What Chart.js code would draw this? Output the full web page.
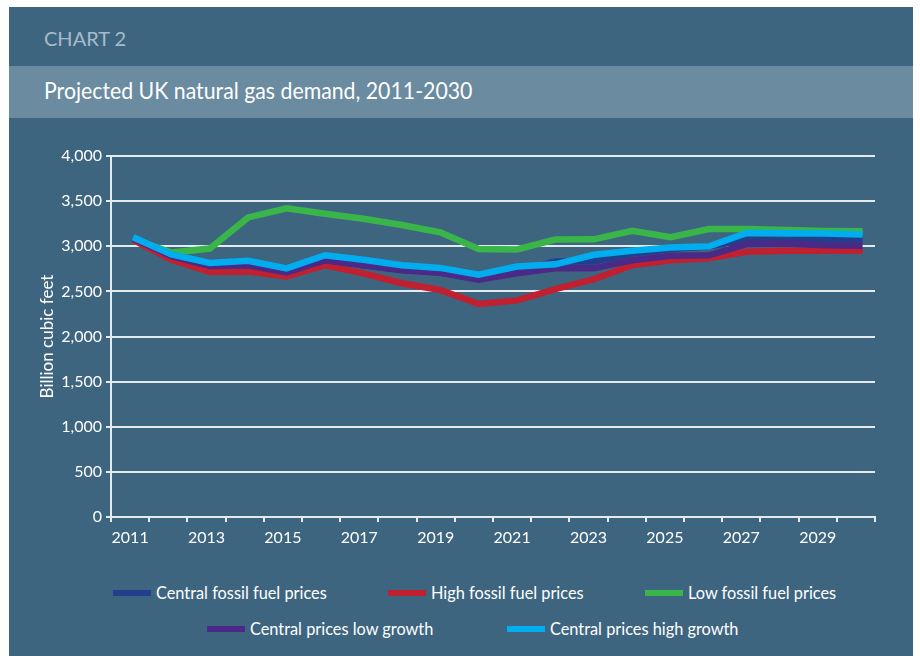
<!DOCTYPE html>
<html>
<head>
<meta charset="utf-8">
<script src="https://cdn.jsdelivr.net/npm/chart.js@4.4.1/dist/chart.umd.min.js"></script>
<style>
  html, body { margin: 0; padding: 0; background: #ffffff; }
  body { width: 920px; height: 656px; position: relative; overflow: hidden; font-family: Lato, "Open Sans", sans-serif; }
  #panel { position: absolute; left: 9px; top: 7px; width: 904px; height: 649px; background: #3e6580; }
  #kicker { position: absolute; left: 44px; top: 26px; font-size: 20px; color: #a6bccb; }
  #band { position: absolute; left: 9px; top: 66px; width: 904px; height: 52px; background: #6a8ba0; }
  #title { position: absolute; left: 44px; top: 76px; font-size: 23px; color: #ffffff; transform: scaleX(0.925); transform-origin: left center; white-space: nowrap; }
  #chartWrap { position: absolute; left: 0; top: 130px; width: 920px; height: 430px; }
  .leg { position: absolute; display: flex; align-items: center; color: #ffffff; font-size: 17px; white-space: nowrap; }
  .leg span.sw { display: inline-block; width: 38px; height: 6px; margin-right: 5px; }
  .leg span.tx { display: inline-block; transform: scaleX(0.96); transform-origin: left center; }
</style>
</head>
<body>
<div id="panel"></div>
<div id="kicker">CHART 2</div>
<div id="band"></div>
<div id="title">Projected UK natural gas demand, 2011-2030</div>
<div id="chartWrap"><canvas id="graph" width="920" height="430"></canvas></div>
<div id="legend"></div>
<script>
// Données (milliards de pieds cubes)
const years = [2011, 2012, 2013, 2014, 2015, 2016, 2017, 2018, 2019, 2020,
               2021, 2022, 2023, 2024, 2025, 2026, 2027, 2028, 2029, 2030];
const centralPrices = [3090, 2900, 2790, 2800, 2720, 2850, 2790, 2740, 2710, 2640,
                       2720, 2830, 2830, 2920, 2970, 3000, 3070, 3065, 3075, 3075];
const highPrices = [3070, 2850, 2715, 2720, 2665, 2790, 2700, 2590, 2515, 2360,
                    2400, 2525, 2635, 2790, 2845, 2866, 2940, 2950, 2950, 2950];
const lowPrices = [3080, 2930, 2975, 3320, 3420, 3360, 3305, 3235, 3155, 2970,
                   2965, 3075, 3077, 3170, 3100, 3190, 3190, 3180, 3170, 3165];
const lowGrowth = [3090, 2890, 2780, 2790, 2710, 2845, 2790, 2735, 2705, 2630,
                   2700, 2755, 2755, 2845, 2895, 2900, 3025, 3030, 3010, 3005];
const highGrowth = [3100, 2910, 2815, 2840, 2755, 2900, 2850, 2790, 2760, 2685,
                    2775, 2800, 2905, 2950, 2985, 3000, 3150, 3145, 3140, 3130];
const yTicks = [0, 500, 1000, 1500, 2000, 2500, 3000, 3500, 4000];
const seriesNames = ['Central fossil fuel prices', 'High fossil fuel prices', 'Low fossil fuel prices',
                     'Central prices low growth', 'Central prices high growth'];

const colors = ['#233e8c', '#c0202f', '#39b54a', '#4a2a86', '#00aeef'];
const seriesData = [centralPrices, highPrices, lowPrices, lowGrowth, highGrowth];
const drawOrder = [2, 3, 4, 1, 0]; // cyan au-dessus, vert en dessous

function toPoints(values) {
    return years.map((yr, i) => ({ x: yr, y: values[i] }));
}

const tickFont = { family: 'Lato', size: 16 };

new Chart(document.getElementById('graph').getContext('2d'), {
    type: 'line',
    data: {
        labels: years.map(String),
        datasets: seriesNames.map((name, i) => ({
            label: name,
            data: toPoints(seriesData[i]),
            xAxisID: 'xData',
            borderColor: colors[i],
            backgroundColor: colors[i],
            borderWidth: 6.5,
            pointRadius: 0,
            tension: 0,
            borderCapStyle: 'butt',
            borderJoinStyle: 'miter',
            order: drawOrder[i]
        }))
    },
    options: {
        responsive: false,
        animation: false,
        layout: { padding: { top: 26, right: 45, left: 0, bottom: 0 } },
        plugins: {
            legend: { display: false },
            tooltip: { enabled: false }
        },
        scales: {
            x: {
                type: 'category',
                offset: true,
                grid: { display: true, drawOnChartArea: false, offset: true, color: '#e4ebef', lineWidth: 2, tickLength: 5 },
                border: { display: true, color: '#e4ebef', width: 2 },
                ticks: {
                    autoSkip: false,
                    maxRotation: 0,
                    padding: 6,
                    color: '#ffffff',
                    font: tickFont,
                    callback: function(val, idx) {
                        return idx % 2 === 0 ? this.getLabelForValue(val) : '';
                    }
                },
                afterFit: function(scale) { scale.height = 43; }
            },
            xData: {
                type: 'linear',
                display: false,
                min: 2010.427,
                max: 2030.323
            },
            y: {
                min: 0,
                max: 4000,
                afterBuildTicks: function(scale) { scale.ticks = yTicks.map(v => ({ value: v })); },
                grid: { color: '#e4ebef', lineWidth: 2, tickLength: 5 },
                border: { display: true, color: '#e4ebef', width: 2 },
                ticks: {
                    padding: 4,
                    color: '#ffffff',
                    font: tickFont,
                    callback: v => v.toLocaleString('en-US')
                },
                title: {
                    display: true,
                    text: 'Billion cubic feet',
                    color: '#ffffff',
                    font: { family: 'Lato', size: 17 },
                    padding: { top: 37, bottom: 0 }
                },
                afterFit: function(scale) { scale.width = 111; }
            }
        }
    }
});

// Légende HTML (deux rangées comme dans l'original)
const legendPos = [[113, 593], [388, 593], [645, 593], [207, 629], [507, 629]];
const legend = document.getElementById('legend');
seriesNames.forEach((name, i) => {
    const item = document.createElement('div');
    item.className = 'leg';
    item.style.left = legendPos[i][0] + 'px';
    item.style.top = (legendPos[i][1] - 11) + 'px';
    item.innerHTML = '<span class="sw" style="background:' + colors[i] + '"></span><span class="tx">' + name + '</span>';
    legend.appendChild(item);
});
</script>
</body>
</html>
